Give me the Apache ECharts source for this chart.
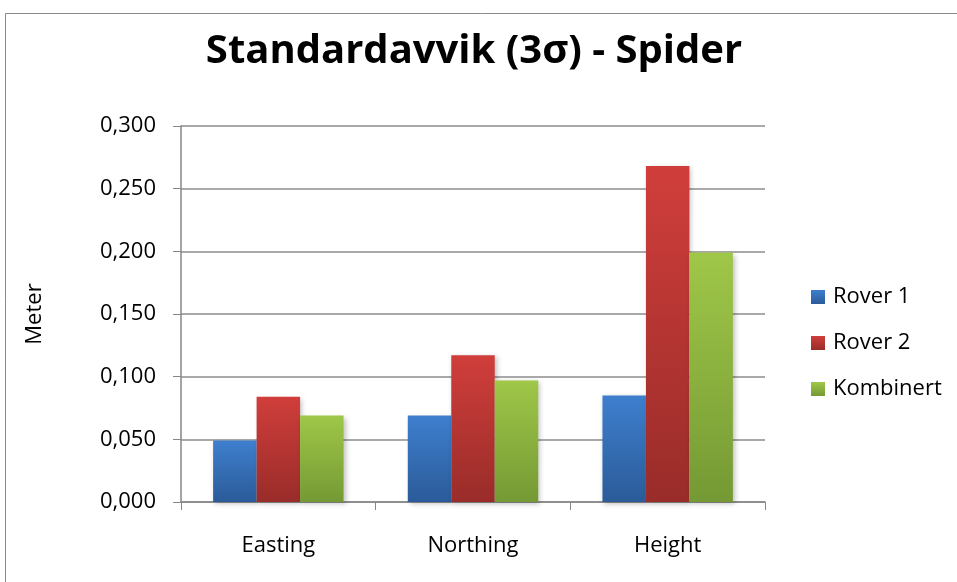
<!DOCTYPE html>
<html>
<head>
<meta charset="utf-8">
<script src="https://cdn.jsdelivr.net/npm/echarts@6/dist/echarts.min.js"></script>
<style>
  html, body { margin: 0; padding: 0; background: #fff; }
  #chart { width: 957px; height: 582px; }
</style>
</head>
<body>
<div id="chart"></div>
<script>
// Standard deviation (3 sigma) per component, in metres
const categories = ['Easting', 'Northing', 'Height'];
const rover1 = [0.049, 0.069, 0.085];
const rover2 = [0.084, 0.117, 0.268];
const kombinert = [0.069, 0.097, 0.199];
const seriesNames = ['Rover 1', 'Rover 2', 'Kombinert'];

const font = '"Open Sans", "Noto Sans", sans-serif';

function grad(top, bottom) {
  return new echarts.graphic.LinearGradient(0, 0, 0, 1, [
    { offset: 0, color: top },
    { offset: 1, color: bottom }
  ]);
}

const fills = [
  grad('#3e7fce', '#2b5b99'),
  grad('#d03e3b', '#992c29'),
  grad('#9fc748', '#759934')
];

const chart = echarts.init(document.getElementById('chart'), null, { renderer: 'canvas' });

chart.setOption({
  animation: false,
  backgroundColor: '#ffffff',
  title: {
    text: 'Standardavvik (3σ) - Spider',
    left: 469,
    textAlign: 'center',
    top: 27,
    textStyle: { fontFamily: font, fontWeight: 'bold', fontSize: 40, color: '#000' }
  },
  graphic: [{
    type: 'rect',
    shape: { x: 5.5, y: 13.5, width: 1000, height: 1000 },
    style: { fill: 'none', stroke: '#8a8a8a', lineWidth: 1 },
    silent: true
  }],
  legend: {
    orient: 'vertical',
    left: 806,
    top: 281,
    itemWidth: 14,
    itemHeight: 14,
    itemGap: 24,
    icon: 'rect',
    textStyle: { fontFamily: font, fontSize: 22, color: '#000', padding: [0, 0, 0, 3] },
    data: seriesNames
  },
  grid: { left: 181, right: 192, top: 126, bottom: 80 },
  xAxis: {
    type: 'category',
    data: categories,
    axisLine: { lineStyle: { color: '#868686', width: 1.5 } },
    axisTick: { show: true, length: 8, lineStyle: { color: '#868686' } },
    axisLabel: { fontFamily: font, fontSize: 22, color: '#000', margin: 33 }
  },
  yAxis: {
    type: 'value',
    min: 0,
    max: 0.3,
    interval: 0.05,
    name: 'Meter',
    nameLocation: 'middle',
    nameGap: 135,
    nameRotate: 90,
    nameTextStyle: { fontFamily: font, fontSize: 22, color: '#000' },
    axisLine: { show: true, lineStyle: { color: '#868686', width: 1.5 } },
    axisTick: { show: true, length: 8, lineStyle: { color: '#868686' } },
    splitLine: { lineStyle: { color: '#8c8c8c', width: 1.5 } },
    axisLabel: {
      fontFamily: font,
      fontSize: 22,
      color: '#000',
      margin: 25,
      formatter: v => v.toFixed(3).replace('.', ',')
    }
  },
  series: [rover1, rover2, kombinert].map((vals, i) => ({
    name: seriesNames[i],
    type: 'bar',
    data: vals,
    barCategoryGap: '33%',
    barGap: '0%',
    itemStyle: {
      color: fills[i],
      shadowColor: 'rgba(0,0,0,0.25)',
      shadowBlur: 5,
      shadowOffsetX: 2,
      shadowOffsetY: 2
    }
  }))
});
</script>
</body>
</html>
